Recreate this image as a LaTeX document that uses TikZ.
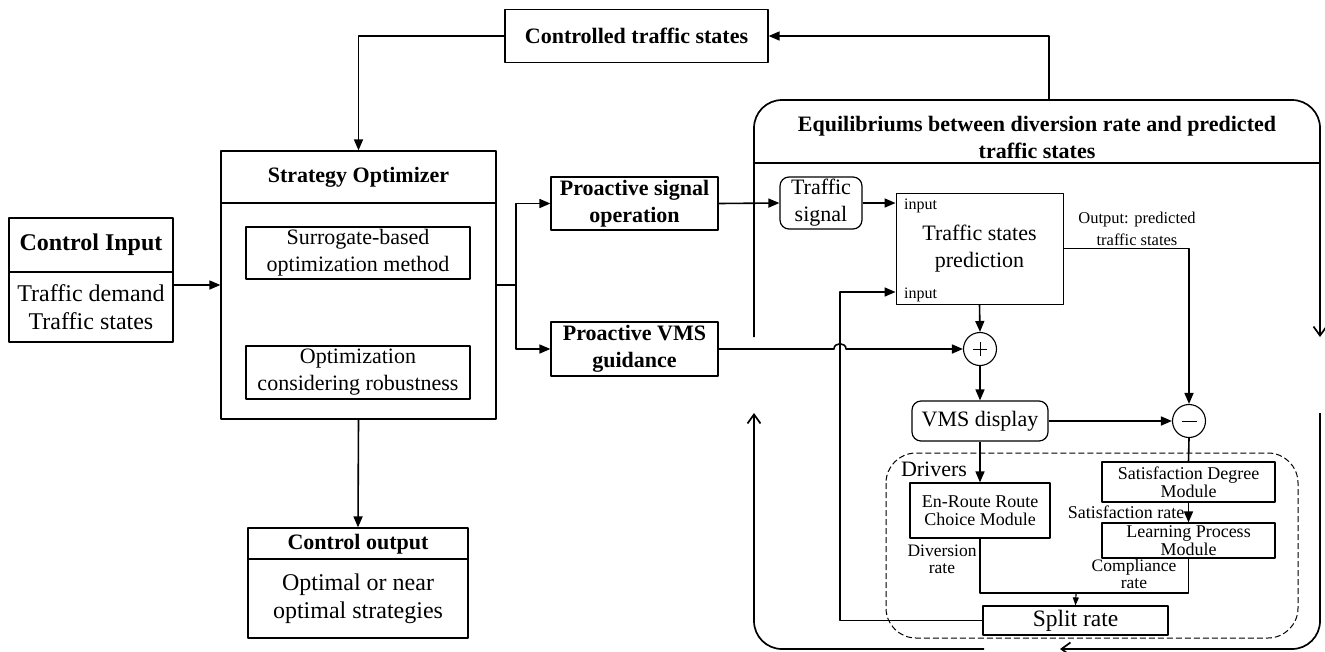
\documentclass[tikz,border=0pt]{standalone}
\usepackage{fontspec}
\setmainfont{Liberation Serif}
\usetikzlibrary{arrows.meta}
\begin{document}
\begin{tikzpicture}[x=1pt,y=-1pt,line join=round,
  box/.style={draw, line width=1.2pt, inner sep=0pt, fill=white},
  rbox/.style={box, rounded corners=9pt},
  conn/.style={line width=1.6pt},
  arr/.style={conn, -{Triangle[length=11pt,width=9pt]}},
  sarr/.style={line width=1.2pt, -{Triangle[length=8pt,width=6pt]}},
  cyc/.style={line width=1.7pt, -{Straight Barb[length=9pt,width=13pt]}},
  sumnode/.style={draw, circle, line width=1.1pt, minimum size=33pt, inner sep=0pt, fill=white},
  sign/.style={line width=1pt},
  fBa/.style={font=\fontsize{24}{28}\selectfont\bfseries, align=center, inner sep=0pt},
  fBb/.style={font=\fontsize{22}{27}\selectfont\bfseries, align=center, inner sep=0pt},
  fRa/.style={font=\fontsize{24}{28}\selectfont, align=center, inner sep=0pt},
  fRb/.style={font=\fontsize{22}{27}\selectfont, align=center, inner sep=0pt},
  fRc/.style={font=\fontsize{18}{18}\selectfont, align=center, inner sep=0pt},
  fRd/.style={font=\fontsize{16.5}{22}\selectfont, align=center, inner sep=0pt},
  fRe/.style={font=\fontsize{17.5}{17}\selectfont, align=center, inner sep=0pt},
  fRs/.style={font=\fontsize{16}{18}\selectfont, inner sep=0pt}]
\useasboundingbox (0,0) rectangle (1325,651);

% ---------- left part: optimizer ----------
\node[box, minimum width=263pt, minimum height=53pt, fBb] (cts) at (636.5,36) {Controlled traffic states};

\node[box, minimum width=164pt, minimum height=124pt] (ci) at (91,280) {};
\draw[line width=1.2pt] (9,272) -- (173,272);
\node[fBa] (citl) at (91,245) {Control Input};
\node[fRa] (cibd) at (91,307) {Traffic demand\\Traffic states};

\node[box, minimum width=275pt, minimum height=268pt] (so) at (358.5,285) {};
\draw[line width=1.2pt] (221,203) -- (496,203);
\node[fBb] (sotl) at (358.5,177) {Strategy Optimizer};
\node[box, minimum width=224pt, minimum height=52pt, fRb] (sm1) at (358,253) {Surrogate-based\\optimization method};
\node[box, minimum width=224pt, minimum height=53pt, fRb] (sm2) at (358,372.5) {Optimization\\considering robustness};

\node[box, minimum width=220pt, minimum height=110pt] (co) at (358,583) {};
\draw[line width=1.2pt] (248,559) -- (468,559);
\node[fBb] (cotl) at (358,544) {Control output};
\node[fRa] (cobd) at (358,599) {Optimal or near\\optimal strategies};

\node[box, minimum width=167pt, minimum height=53pt, fBb] (pso) at (634.5,203.5) {Proactive signal\\operation};
\node[box, minimum width=167pt, minimum height=54pt, fBb] (pvg) at (634.5,349) {Proactive VMS\\guidance};

\coordinate (br) at (516,285);
\draw[arr] (ci.east |- so.west) -- (so.west);
\draw[arr] (cts.west) -| (so.north);
\draw[arr] (so.south) -- (co.north);
\draw[conn] (so.east |- br) -- (br);
\draw[arr] (br) |- (pso.west);
\draw[arr] (br) |- (pvg.west);

% ---------- right part: equilibrium loop ----------
\draw[cyc, rounded corners=28pt] (754,337) -- (754,100) -- (1320,100) -- (1320,337);
\draw[cyc, rounded corners=28pt] (1320,413) -- (1320,649) -- (1060,649);
\draw[cyc, rounded corners=28pt] (984,649) -- (754,649) -- (754,413);
\draw[line width=1.3pt] (754,163) -- (1320,163);
\node[fBb] (eqtl) at (1037,137.5) {Equilibriums between diversion rate and predicted\\traffic states};
\coordinate (eqtop) at (1049,100);
\draw[arr] (eqtop) |- (cts.east);

\draw[line width=1pt, dash pattern=on 6pt off 3pt, rounded corners=30pt] (886,453) rectangle (1298,638);

\node[rbox, minimum width=82pt, minimum height=52pt, fRb] (ts) at (821,203) {Traffic\\signal};
\node[box, line width=0.9pt, minimum width=167pt, minimum height=111pt, fRb] (pred) at (979.5,248.5) {Traffic states\\prediction};
\node[fRs, anchor=west] (in1) at (904,206) {input};
\node[fRs, anchor=west] (in2) at (904,295) {input};
\node[fRd] (outl) at (1137,229) {Output: predicted\\traffic states};

% summing junctions with drawn signs
\node[sumnode] (plus) at (980,349) {};
\draw[sign] ([xshift=-7pt]plus.center) -- ([xshift=7pt]plus.center);
\draw[sign] ([yshift=-7pt]plus.center) -- ([yshift=7pt]plus.center);
\node[sumnode] (minus) at (1189,421) {};
\draw[sign] ([xshift=-7.5pt]minus.center) -- ([xshift=7.5pt]minus.center);

\node[rbox, minimum width=136pt, minimum height=40pt, fRb] (vms) at (980,421) {VMS display};

\node[fRb] (drv) at (934,469) {Drivers};
\node[box, minimum width=140pt, minimum height=55pt, fRc] (enr) at (980,510.5) {En-Route Route\\Choice Module};
\node[box, minimum width=173pt, minimum height=40pt, fRc] (sdm) at (1188.5,482) {Satisfaction Degree\\Module};
\node[box, minimum width=173pt, minimum height=35pt, fRc] (lpm) at (1188.5,540.5) {Learning Process\\Module};
\node[box, minimum width=185pt, minimum height=29pt, font=\fontsize{23.5}{27}\selectfont] (sr) at (1075.5,620.5) {Split rate};

\node[fRc] (satl) at (1126,512) {Satisfaction rate};
\node[fRe] (divl) at (942,559) {Diversion\\rate};
\node[fRe] (coml) at (1134,574) {Compliance\\rate};

\coordinate (fb) at (840,292);
\coordinate (jn) at (1076,593);

\draw[arr] (pso.east) -- (ts.west);
\draw[arr] (ts.east) -- (pred.west |- ts.east);
\draw[arr] (sr.west) -| (fb) -- (pred.west |- fb);
\draw[arr] (pred.south) -- (plus.north);
\draw[arr] (pvg.east) -- (834,349) .. controls (834,342) and (846,342) .. (846,349) -- (plus.west);
\draw[arr] (plus.south) -- (vms.north);
\draw[arr] (vms.east) -- (minus.west);
\draw[arr] (pred.east) -| (minus.north);
\draw[conn] (minus.south) -- (sdm.north);
\draw[arr] (vms.south) -- (enr.north);
\draw[arr] (sdm.south) -- (lpm.north);
\draw[conn] (enr.south) |- (jn) -| (lpm.south);
\draw[sarr] (jn) -- (sr.north);
\end{tikzpicture}
\end{document}
